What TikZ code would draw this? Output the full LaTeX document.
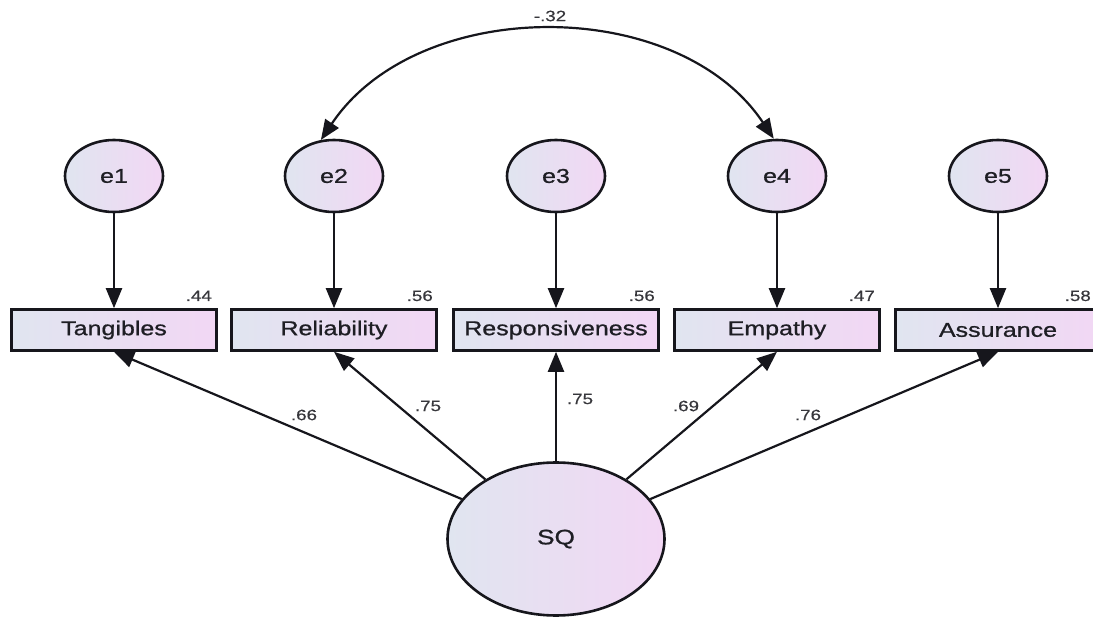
\documentclass[tikz,border=0pt]{standalone}
\usepackage{fontspec}
\setmainfont{Liberation Sans}
\newfontfamily\semfont[FakeStretch=1.25,FakeBold=0.9]{Liberation Sans}
\newfontfamily\numfont[FakeStretch=1.25,FakeBold=0.5]{Liberation Sans}
\usetikzlibrary{shapes.geometric,arrows.meta,calc}
\definecolor{fillL}{RGB}{224,229,240}
\definecolor{fillR}{RGB}{242,215,244}
\definecolor{ink}{RGB}{22,22,28}
\definecolor{txt}{RGB}{30,30,36}
\definecolor{coef}{RGB}{55,55,60}

\begin{document}
\begin{tikzpicture}[x=1pt,y=-1pt,
  shadefill/.style={left color=fillL,right color=fillR,draw=ink,line width=2.6pt},
  errnode/.style={shadefill,ellipse,minimum width=98pt,minimum height=72pt,inner sep=0pt,
    font=\semfont\fontsize{20}{22}\selectfont,text=txt},
  obsbox/.style={shadefill,rectangle,minimum width=205pt,minimum height=41pt,inner sep=0pt,
    font=\semfont\fontsize{20}{22}\selectfont,text=txt},
  latent/.style={shadefill,ellipse,minimum width=217pt,minimum height=153pt,inner sep=0pt,
    font=\semfont\fontsize{21}{23}\selectfont,text=txt},
  regpath/.style={draw=ink,line width=2.2pt,-{Triangle[length=20pt,width=16pt]}},
  covpath/.style={draw=ink,line width=2.2pt,{Triangle[length=20pt,width=16pt]}-{Triangle[length=20pt,width=16pt]}},
  coefl/.style={font=\numfont\fontsize{15}{17}\selectfont,text=coef,inner sep=0pt}]

\useasboundingbox (0,0) rectangle (1093,617);
\clip (0,0) rectangle (1093,617);

% error terms
\node[errnode] (e1) at (114,176) {e1};
\node[errnode] (e2) at (334,176) {e2};
\node[errnode] (e3) at (556,176) {e3};
\node[errnode] (e4) at (777,176) {e4};
\node[errnode] (e5) at (998,176) {e5};

% observed indicators
\node[obsbox] (T)  at (114,330) {Tangibles};
\node[obsbox] (Rl) at (334,330) {Reliability};
\node[obsbox] (Rs) at (556,330) {Responsiveness};
\node[obsbox] (Em) at (777,330) {Empathy};
\node[obsbox] (As) at (998,330) {Assurance};

% latent factor
\node[latent] (SQ) at (556,539) {SQ};

% error paths
\draw[regpath] (e1) -- (T);
\draw[regpath] (e2) -- (Rl);
\draw[regpath] (e3) -- (Rs);
\draw[regpath] (e4) -- (Em);
\draw[regpath] (e5) -- (As);

% factor loadings
\draw[regpath] (SQ) -- (T.south);
\draw[regpath] (SQ) -- (Rl.south);
\draw[regpath] (SQ) -- (Rs.south);
\draw[regpath] (SQ) -- (Em.south);
\draw[regpath] (SQ) -- (As.south);

% error covariance
\draw[covpath] (e2.110) .. controls (418,-5) and (678,-5) .. (e4.95);
\node[coefl] (c24) at (550,16) {-.32};

% squared multiple correlations
\node[coefl,anchor=base east] (r1) at (212,301) {.44};
\node[coefl,anchor=base east] (r2) at (433,301) {.56};
\node[coefl,anchor=base east] (r3) at (655,301) {.56};
\node[coefl,anchor=base east] (r4) at (875,301) {.47};
\node[coefl,anchor=base east] (r5) at (1091,301) {.58};

% loading estimates
\node[coefl] (l1) at (304,415) {.66};
\node[coefl] (l2) at (428,406) {.75};
\node[coefl] (l3) at (580,399) {.75};
\node[coefl] (l4) at (686,406) {.69};
\node[coefl] (l5) at (808,415) {.76};
\end{tikzpicture}
\end{document}
